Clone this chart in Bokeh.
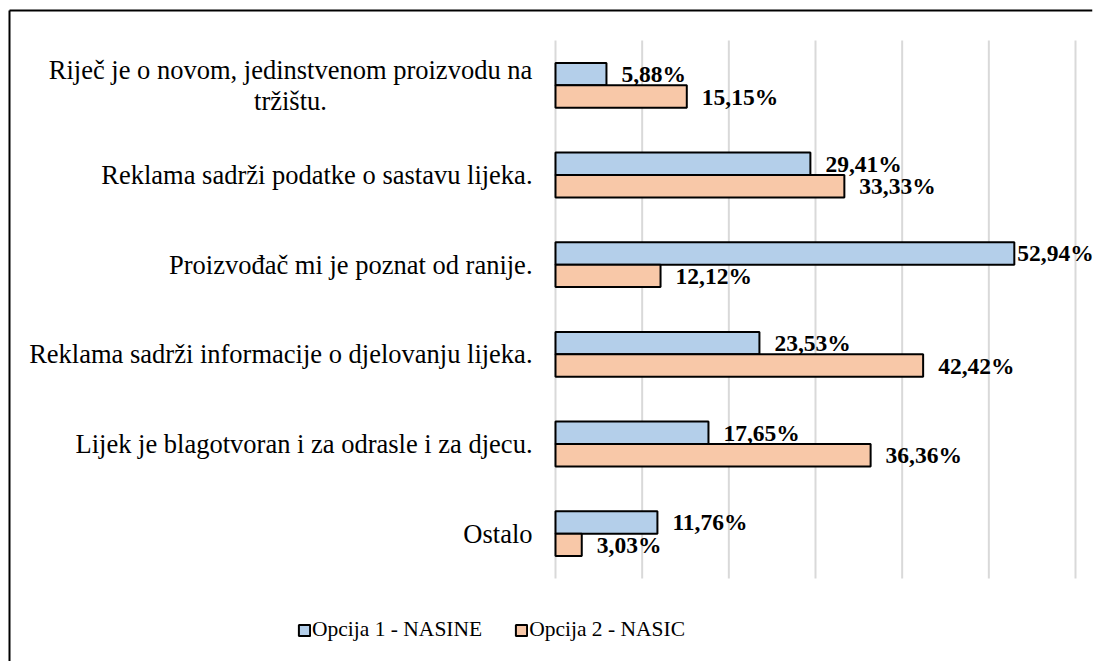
from bokeh.plotting import figure
from bokeh.models import ColumnDataSource, Range1d, Legend, LegendItem
from bokeh.core.properties import value
from bokeh.embed import file_html
from bokeh.resources import INLINE

categories = [
    "Riječ je o novom, jedinstvenom proizvodu na\ntržištu.",
    "Reklama sadrži podatke o sastavu lijeka.",
    "Proizvođač mi je poznat od ranije.",
    "Reklama sadrži informacije o djelovanju lijeka.",
    "Lijek je blagotvoran i za odrasle i za djecu.",
    "Ostalo",
]
opcija1 = [5.88, 29.41, 52.94, 23.53, 17.65, 11.76]
opcija2 = [15.15, 33.33, 12.12, 42.42, 36.36, 3.03]
series_names = ["Opcija 1 - NASINE", "Opcija 2 - NASIC"]
x_ticks = [0, 10, 20, 30, 40, 50, 60]

BLUE = "#B4CFEA"
ORANGE = "#F8C8A8"
FONT = "Liberation Serif"

# layout (pixel targets on the canvas)
W, H = 1094, 661
RB = 2  # right border outside the frame
PX0, PX60 = 555, 1075
PY_TOP, PY_BOT = 40, 578
BX, BY = 9, 10  # chart-area border position
ppu = (PX60 - PX0) / 60.0
gh = (PY_BOT - PY_TOP) / len(categories)
x_start = (0 - PX0) / ppu
x_end = 60 + (W - RB - PX60) / ppu
y_top = (0 - PY_TOP) / gh
y_bot = (H - PY_TOP) / gh
bx = (BX - PX0) / ppu
by = (BY - PY_TOP) / gh

def fmt(v):
    return f"{v:.2f}".replace(".", ",") + "%"

pos = [i + 0.5 for i in range(len(categories))]
bh = 0.25
src = ColumnDataSource(dict(
    cat=categories,
    y1=[p_ - 0.125 for p_ in pos],
    y2=[p_ + 0.125 for p_ in pos],
    v1=opcija1,
    v2=opcija2,
    l1=[fmt(v) for v in opcija1],
    l2=[fmt(v) for v in opcija2],
    o1=[3 if v > 50 else 15 for v in opcija1],
    o2=[3 if v > 50 else 15 for v in opcija2],
))

p = figure(
    width=W, height=H,
    x_range=Range1d(x_start, x_end),
    y_range=Range1d(y_bot, y_top),
    output_backend="svg", toolbar_location=None,
    min_border=0, min_border_right=RB,
)
p.outline_line_color = None
p.border_fill_color = "#FFFFFF"
p.background_fill_color = "#FFFFFF"
p.axis.visible = False
p.grid.visible = False

# vertical gridlines
p.segment(x0=x_ticks, x1=x_ticks, y0=[0] * len(x_ticks), y1=[len(categories)] * len(x_ticks),
          line_color="#D9D9D9", line_width=2)

r1 = p.hbar(y="y1", right="v1", left=0, height=bh, source=src,
            fill_color=BLUE, line_color="#000000", line_width=2)
r2 = p.hbar(y="y2", right="v2", left=0, height=bh, source=src,
            fill_color=ORANGE, line_color="#000000", line_width=2)

p.text(x="v1", y="y1", text="l1", source=src, x_offset="o1",
       text_align="left", text_baseline="middle",
       text_font=value(FONT), text_font_style="bold", text_font_size="23.5px", text_color="#000000")
p.text(x="v2", y="y2", text="l2", source=src, x_offset="o2",
       text_align="left", text_baseline="middle",
       text_font=value(FONT), text_font_style="bold", text_font_size="23.5px", text_color="#000000")

single = ColumnDataSource(dict(
    cat=[c for c in categories if "\n" not in c],
    y=[pos[i] for i, c in enumerate(categories) if "\n" not in c],
    x=[0] * sum(1 for c in categories if "\n" not in c)))
multi = ColumnDataSource(dict(
    cat=[c for c in categories if "\n" in c],
    y=[pos[i] for i, c in enumerate(categories) if "\n" in c],
    x=[0] * sum(1 for c in categories if "\n" in c)))
p.text(x="x", y="y", text="cat", source=single, x_offset=-23,
       text_align="right", text_baseline="middle",
       text_font=value(FONT), text_font_size="26.5px", text_color="#000000")
p.text(x="x", y="y", text="cat", source=multi, x_offset=-265,
       text_align="center", text_baseline="middle", text_line_height=1.02,
       text_font=value(FONT), text_font_size="26.5px", text_color="#000000")

# chart-area border (top and left visible)
p.line(x=[bx, x_end], y=[by, by], line_color="#000000", line_width=2)
p.line(x=[bx, bx], y=[by, y_bot], line_color="#000000", line_width=2)

legend = Legend(items=[LegendItem(label=series_names[0], renderers=[r1]),
                       LegendItem(label=series_names[1], renderers=[r2])],
                orientation="horizontal", location=(297, 19))
legend.label_text_font = FONT
legend.label_text_font_size = "21.5px"
legend.label_text_color = "#000000"
legend.glyph_width = 14
legend.glyph_height = 14
legend.label_standoff = 1
legend.spacing = 32
legend.padding = 0
legend.margin = 0
legend.border_line_color = None
legend.background_fill_alpha = 0
p.add_layout(legend, "center")

open("out.html", "w").write(file_html(p, INLINE))
